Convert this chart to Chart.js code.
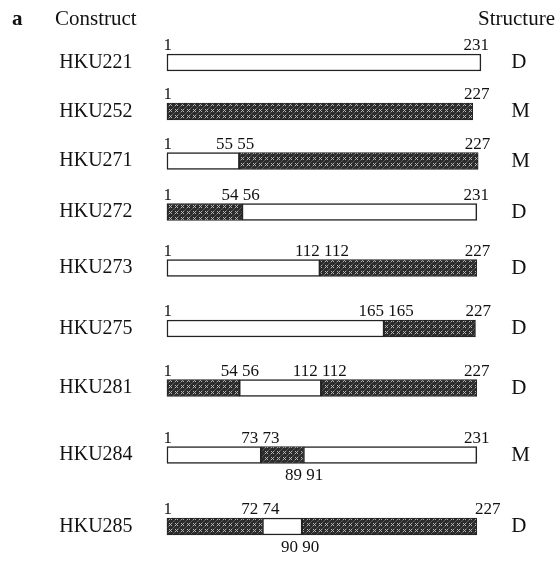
<!DOCTYPE html>
<html>
<head>
<meta charset="utf-8">
<script src="https://cdn.jsdelivr.net/npm/chart.js@4.4.1/dist/chart.umd.min.js"></script>
<style>
  body { margin: 0; background: #fff; }
  #wrap { width: 559px; height: 562px; position: relative; }
</style>
</head>
<body>
<div id="wrap"><canvas id="constructs"></canvas></div>
<script>
// constructs and structure calls
var constructs = ['HKU221', 'HKU252', 'HKU271', 'HKU272', 'HKU273', 'HKU275', 'HKU281', 'HKU284', 'HKU285'];
var structures = ['D', 'M', 'M', 'D', 'D', 'D', 'D', 'M', 'D'];

// segment extents along the residue axis, as drawn
var openSegments = [
    [[1, 231]],
    [],
    [[1, 54]],
    [[56, 228]],
    [[1, 113]],
    [[1, 160]],
    [[54, 114]],
    [[1, 70], [101, 228]],
    [[71, 100]]
];
var shadedSegments = [
    [],
    [[1, 225]],
    [[54, 229]],
    [[1, 56]],
    [[113, 228]],
    [[160, 227]],
    [[1, 54], [114, 228]],
    [[70, 101]],
    [[1, 71], [100, 228]]
];

// residue numbers: [position, text, above/below]
var residueLabels = [
    [[1.5, '1', 'a'], [227.5, '231', 'a']],
    [[1.5, '1', 'a'], [228, '227', 'a']],
    [[1.5, '1', 'a'], [51, '55 55', 'a'], [228.5, '227', 'a']],
    [[1.5, '1', 'a'], [55, '54 56', 'a'], [227.5, '231', 'a']],
    [[1.5, '1', 'a'], [114.5, '112 112', 'a'], [228.5, '227', 'a']],
    [[1.5, '1', 'a'], [161.5, '165 165', 'a'], [229, '227', 'a']],
    [[1.5, '1', 'a'], [54.5, '54 56', 'a'], [113, '112 112', 'a'], [228, '227', 'a']],
    [[1.5, '1', 'a'], [69.5, '73 73', 'a'], [101.5, '89 91', 'b'], [228, '231', 'a']],
    [[1.5, '1', 'a'], [69.5, '72 74', 'a'], [98.5, '90 90', 'b'], [236, '227', 'a']]
];

// row layout (rows are not evenly spaced in the figure)
var rowPos = [1.01, 1.99, 2.98, 4.0, 5.12, 6.33, 7.52, 8.86, 10.29];

var serif = '"Liberation Serif", "Times New Roman", serif';
var barH = 17;

var canvas = document.getElementById('constructs');
var ctx = canvas.getContext('2d');

function makeHatch() {
    var c = document.createElement('canvas');
    c.width = 6; c.height = 6;
    var g = c.getContext('2d');
    g.fillStyle = '#2c2c2c';
    g.fillRect(0, 0, 6, 6);
    g.fillStyle = '#b5b5b5';
    [[1, 1], [3, 1], [2, 2], [1, 3], [3, 3]].forEach(function (p) {
        g.fillRect(p[0], p[1], 1, 1);
    });
    g.fillStyle = '#5a5a5a';
    [[5, 5], [0, 4], [4, 0]].forEach(function (p) {
        g.fillRect(p[0], p[1], 1, 1);
    });
    return ctx.createPattern(c, 'repeat');
}

function toPoints(segs) {
    var pts = [];
    segs.forEach(function (list, i) {
        list.forEach(function (s) {
            pts.push({x: [s[0], s[1]], y: rowPos[i]});
        });
    });
    return pts;
}

var labelPlugin = {
    id: 'labels',
    afterDatasetsDraw: function (chart) {
        var c = chart.ctx;
        var xs = chart.scales.x, ys = chart.scales.y;
        c.save();
        c.fillStyle = '#111';
        c.font = '17px ' + serif;
        c.textAlign = 'center';
        residueLabels.forEach(function (list, i) {
            var yc = ys.getPixelForValue(rowPos[i]);
            list.forEach(function (l) {
                var px = xs.getPixelForValue(l[0]);
                if (l[2] === 'a') {
                    c.textBaseline = 'alphabetic';
                    c.fillText(l[1], px, yc - barH / 2 - 4);
                } else {
                    c.textBaseline = 'top';
                    c.fillText(l[1], px, yc + barH / 2 + 4);
                }
            });
        });
        // headers
        c.textAlign = 'left';
        c.textBaseline = 'alphabetic';
        c.font = 'bold 21px ' + serif;
        c.fillText('a', 12, 25);
        c.font = '21px ' + serif;
        c.fillText('Construct', 55, 25);
        c.fillText('Structure', 478, 25);
        c.restore();
    }
};

function rowTicks(scale) {
    scale.ticks = rowPos.map(function (v) { return {value: v}; });
}

function fixWidth(w) {
    return function (s) {
        s.width = w;
        s.paddingTop = 0;
        s.paddingBottom = 0;
    };
}

new Chart(canvas, {
    type: 'bar',
    data: {
        datasets: [{
            label: 'open',
            data: toPoints(openSegments),
            backgroundColor: '#fff',
            borderColor: '#222',
            borderWidth: 1.5,
            borderSkipped: false,
            barThickness: barH,
            grouped: false
        }, {
            label: 'shaded',
            data: toPoints(shadedSegments),
            backgroundColor: makeHatch(),
            borderColor: '#222',
            borderWidth: 1,
            borderSkipped: false,
            barThickness: barH,
            grouped: false
        }]
    },
    options: {
        indexAxis: 'y',
        responsive: true,
        maintainAspectRatio: false,
        animation: false,
        layout: {padding: {top: 12, left: 0, right: 0, bottom: 0}},
        plugins: {legend: {display: false}, tooltip: {enabled: false}},
        scales: {
            x: {
                type: 'linear', min: 0, max: 240, display: false, offset: false
            },
            y: {
                type: 'linear', reverse: true, min: 0, max: 11, offset: false,
                position: 'left',
                grid: {display: false, drawTicks: false},
                border: {display: false},
                afterBuildTicks: rowTicks,
                afterFit: fixWidth(165.6),
                ticks: {
                    padding: 33,
                    color: '#111',
                    font: {family: serif, size: 20},
                    callback: function (v, i) { return constructs[i]; }
                }
            },
            y2: {
                type: 'linear', reverse: true, min: 0, max: 11, offset: false,
                position: 'right',
                grid: {display: false, drawTicks: false},
                border: {display: false},
                afterBuildTicks: rowTicks,
                afterFit: fixWidth(65.8),
                ticks: {
                    padding: 18,
                    color: '#111',
                    font: {family: serif, size: 21},
                    callback: function (v, i) { return structures[i]; }
                }
            }
        }
    },
    plugins: [labelPlugin]
});
</script>
</body>
</html>
